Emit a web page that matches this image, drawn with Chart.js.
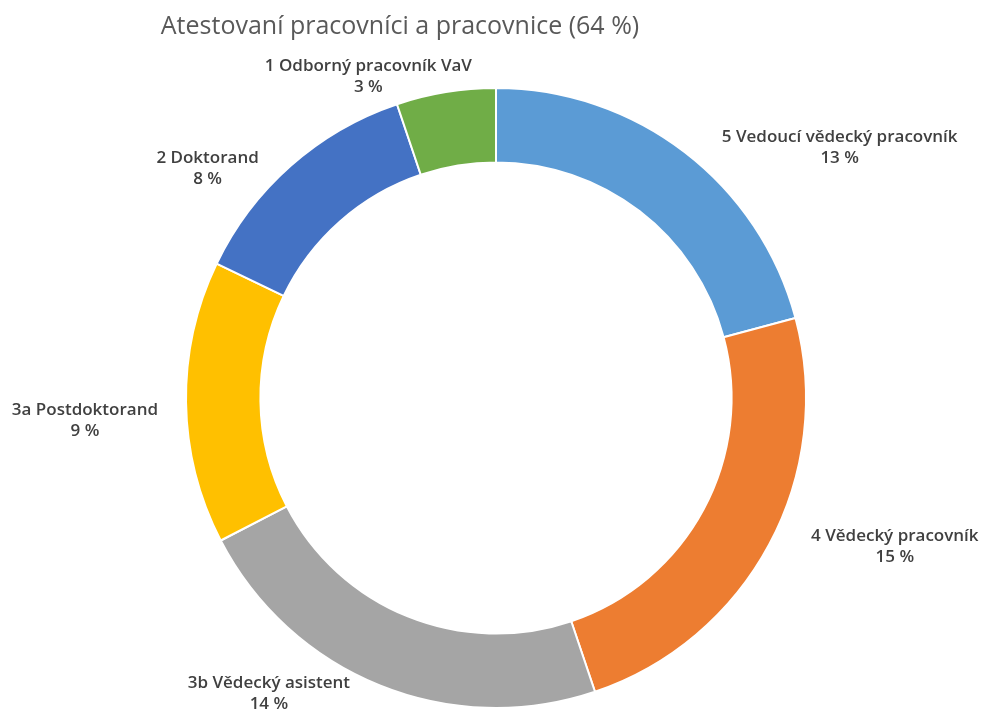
<!DOCTYPE html>
<html>
<head>
<meta charset="utf-8">
<script src="https://cdn.jsdelivr.net/npm/chart.js@4.4.1/dist/chart.umd.min.js"></script>
<style>
    body { margin: 0; background: #fff; }
    #wrap { width: 986px; height: 709px; }
</style>
</head>
<body>
<div id="wrap"><canvas id="chart-canvas" width="986" height="709"></canvas></div>
<script>
// data (clockwise from the top), shares of all staff in %
const categories = ['5 Vedoucí vědecký pracovník', '4 Vědecký pracovník', '3b Vědecký asistent', '3a Postdoktorand', '2 Doktorand', '1 Odborný pracovník VaV'];
const shares = [13.3, 15.3, 14.4, 9.4, 8.1, 3.3];
const shareLabels = ['13 %', '15 %', '14 %', '9 %', '8 %', '3 %'];
const sliceColors = ['#5B9BD5', '#ED7D31', '#A5A5A5', '#FFC000', '#4472C4', '#70AD47'];
const chartTitle = 'Atestovaní pracovníci a pracovnice (64 %)';

// small per-label nudges so labels sit like the Excel "best fit" ones
const labelNudge = [[26, 10], [26, -6], [-23, -8], [-10, 18], [-20, 16], [29, 2]];

const FONT = '"Open Sans", "Noto Sans", sans-serif';

const outsideLabels = {
    id: 'outsideLabels',
    afterDraw(chart) {
        const ctx = chart.ctx;
        const arcs = chart.getDatasetMeta(0).data;
        ctx.save();
        // title
        ctx.font = '25px ' + FONT;
        ctx.fillStyle = '#595959';
        ctx.textAlign = 'center';
        ctx.textBaseline = 'middle';
        ctx.fillText(chartTitle, 400, 27);

        ctx.font = '600 17px ' + FONT;
        ctx.fillStyle = '#404040';
        arcs.forEach((arc, i) => {
            const p = arc.getProps(['x', 'y', 'startAngle', 'endAngle', 'outerRadius'], true);
            const mid = (p.startAngle + p.endAngle) / 2;
            const r = p.outerRadius + 18;
            const ax = p.x + Math.cos(mid) * r + labelNudge[i][0];
            const ay = p.y + Math.sin(mid) * r + labelNudge[i][1];
            const lines = [categories[i], shareLabels[i]];
            const w = Math.max(...lines.map(l => ctx.measureText(l).width));
            const left = Math.cos(mid) >= 0 ? ax : ax - w;
            const lineH = 21;
            lines.forEach((l, k) => {
                ctx.fillText(l, left + w / 2, ay + (k - (lines.length - 1) / 2) * lineH);
            });
        });
        ctx.restore();
    }
};

new Chart(document.getElementById('chart-canvas').getContext('2d'), {
    type: 'doughnut',
    data: {
        labels: categories,
        datasets: [{
            data: shares,
            backgroundColor: sliceColors,
            borderColor: '#ffffff',
            borderWidth: 2
        }]
    },
    options: {
        responsive: false,
        animation: false,
        radius: 310,
        cutout: '76%',
        layout: { padding: { top: 88, bottom: 1, left: 6, right: 0 } },
        plugins: {
            legend: { display: false },
            tooltip: { enabled: false },
            title: { display: false }
        }
    },
    plugins: [outsideLabels]
});
</script>
</body>
</html>
